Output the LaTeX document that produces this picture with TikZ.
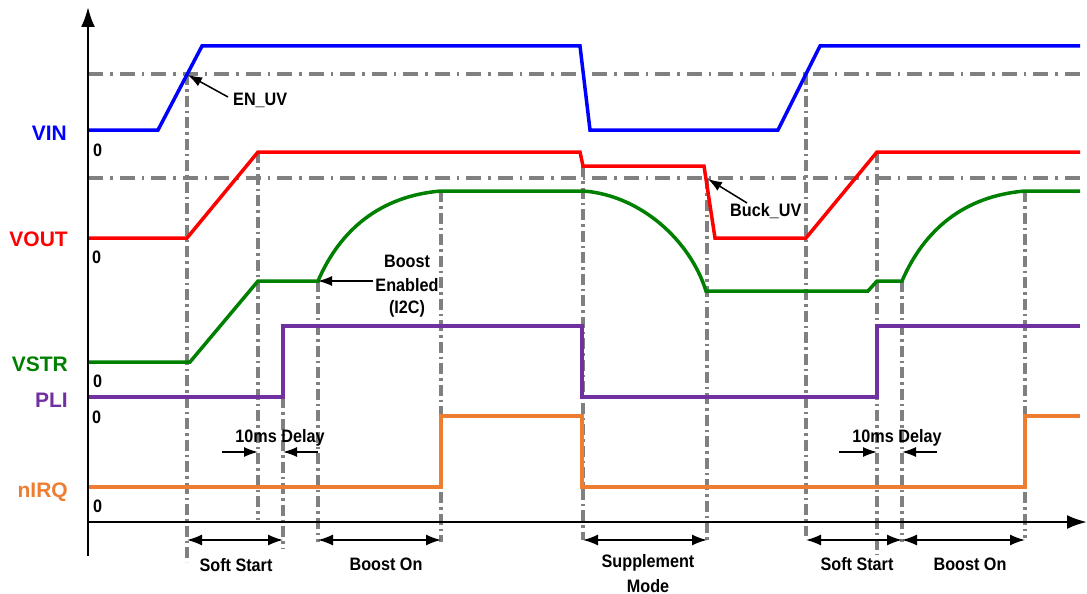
\documentclass[tikz,border=0pt]{standalone}
\usepackage{fontspec}
\setmainfont{Liberation Sans}
\newfontfamily\annfont{Liberation Sans}[FakeStretch=0.9]
\usetikzlibrary{arrows.meta}
\definecolor{cvin}{RGB}{0,0,255}
\definecolor{cvout}{RGB}{255,0,0}
\definecolor{cvstr}{RGB}{0,128,0}
\definecolor{cpli}{RGB}{112,48,160}
\definecolor{cirq}{RGB}{237,125,49}
\definecolor{cgrid}{RGB}{128,128,128}
\begin{document}
\begin{tikzpicture}[x=1pt,y=-1pt,
  sig/.style={line width=3.5pt},
  hgrid/.style={draw=cgrid,line width=3.5pt,dash pattern=on 15pt off 7pt on 2.5pt off 7pt},
  vgrid/.style={draw=cgrid,line width=3.5pt,dash pattern=on 11pt off 4pt on 2.5pt off 4pt},
  ann/.style={font=\annfont\bfseries\fontsize{18}{20}\selectfont,inner sep=0pt},
  lbl/.style={font=\bfseries\fontsize{21}{24}\selectfont,inner sep=0pt,anchor=base east},
  zero/.style={ann,anchor=base west},
  ptr/.style={line width=1.5pt,-{Latex[length=14pt,width=10pt]}},
  dimarrow/.style={line width=1.5pt,{Latex[length=15pt,width=11pt]}-{Latex[length=15pt,width=11pt]}},
  axis/.style={line width=2.5pt,-{Latex[length=20pt,width=14pt]}}
]
\useasboundingbox (0,0) rectangle (1087,594);

% horizontal threshold lines
\draw[hgrid] (88,74) -- (1080,74);
\draw[hgrid] (88,178) -- (1080,178);

% vertical event lines
\draw[vgrid] (187,74) -- (187,562);
\draw[vgrid] (258,152) -- (258,520);
\draw[vgrid] (283,397) -- (283,548);
\draw[vgrid] (318,281) -- (318,542);
\draw[vgrid] (441,191) -- (441,542);
\draw[vgrid] (583,166) -- (583,540);
\draw[vgrid] (707,178) -- (707,540);
\draw[vgrid] (806,74) -- (806,536);
\draw[vgrid] (877,152) -- (877,555);
\draw[vgrid] (902,281) -- (902,542);
\draw[vgrid] (1025,191) -- (1025,538);

% signals
\draw[sig,cvin] (88,130) -- (158,130) -- (202,46) -- (580,46) -- (590,130) -- (778,130) -- (820,46) -- (1080,46);
\draw[sig,cvout] (88,238) -- (187,238) -- (258,152) -- (580,152) -- (583,166) -- (704,166) -- (715,238) -- (806,238) -- (877,152) -- (1080,152);
\draw[sig,cvstr] (88,362) -- (190,362) -- (258,281) -- (318,281) .. controls (340,230) and (380,196) .. (441,191) -- (583,191) .. controls (640,195) and (690,240) .. (706,291) -- (868,291) -- (877,281) -- (902,281) .. controls (924,230) and (964,196) .. (1025,191) -- (1080,191);
\draw[sig,cpli] (88,397) -- (283,397) -- (283,326) -- (582,326) -- (582,397) -- (877,397) -- (877,326) -- (1080,326);
\draw[sig,cirq] (88,487) -- (441,487) -- (441,416) -- (582,416) -- (582,487) -- (1025,487) -- (1025,416) -- (1080,416);

% axes
\coordinate (ybot) at (88,556);
\coordinate (ytop) at (88,7);
\coordinate (xl) at (88,522);
\coordinate (xr) at (1087,522);
\draw[axis] (ybot) -- (ytop);
\draw[axis] (xl) -- (xr);

% signal labels
\node[lbl,text=cvin] (lvin) at (67,140) {VIN};
\node[lbl,text=cvout] (lvout) at (68,246) {VOUT};
\node[lbl,text=cvstr] (lvstr) at (68,371) {VSTR};
\node[lbl,text=cpli] (lpli) at (68,407) {PLI};
\node[lbl,text=cirq] (lirq) at (68,497) {nIRQ};
\node[zero] (z1) at (93,156) {0};
\node[zero] (z2) at (92,263) {0};
\node[zero] (z3) at (93,387) {0};
\node[zero] (z4) at (92,423) {0};
\node[zero] (z5) at (93,512) {0};

% EN_UV
\node[ann,anchor=base west] (enuv) at (233,106) {EN\_UV};
\coordinate (enuvtail) at (228,97);
\coordinate (enuvtip) at (188,75);
\draw[ptr] (enuvtail) -- (enuvtip);

% Buck_UV
\node[ann,anchor=base west] (buckuv) at (730,216) {Buck\_UV};
\coordinate (bucktail) at (747,203);
\coordinate (bucktip) at (708,179);
\draw[ptr] (bucktail) -- (bucktip);

% Boost Enabled
\node[ann,anchor=base] (be1) at (407,267) {Boost};
\node[ann,anchor=base] (be2) at (407,291) {Enabled};
\node[ann,anchor=base] (be3) at (407,313) {(I2C)};
\coordinate (betail) at (373,281);
\coordinate (betip) at (318,281);
\draw[ptr] (betail) -- (betip);

% 10ms delay
\node[ann,anchor=base] (d1) at (280,442) {10ms Delay};
\coordinate (d1a) at (222,452); \coordinate (d1b) at (258,452);
\coordinate (d1c) at (318,452); \coordinate (d1d) at (283,452);
\draw[ptr] (d1a) -- (d1b);
\draw[ptr] (d1c) -- (d1d);
\node[ann,anchor=base] (d2) at (897,442) {10ms Delay};
\coordinate (d2a) at (839,452); \coordinate (d2b) at (877,452);
\coordinate (d2c) at (937,452); \coordinate (d2d) at (902,452);
\draw[ptr] (d2a) -- (d2b);
\draw[ptr] (d2c) -- (d2d);

% phase dimension arrows
\coordinate (p1) at (187,540); \coordinate (p2) at (283,540);
\coordinate (p3) at (318,540); \coordinate (p4) at (441,540);
\coordinate (p5) at (583,540); \coordinate (p6) at (707,540);
\coordinate (p7) at (806,540); \coordinate (p8) at (902,540);
\coordinate (p9) at (1025,540);
\draw[dimarrow] (p1) -- (p2);
\draw[dimarrow] (p3) -- (p4);
\draw[dimarrow] (p5) -- (p6);
\draw[dimarrow] (p7) -- (p8);
\draw[dimarrow] (p8) -- (p9);
\node[ann,anchor=base] (ss1) at (236,571) {Soft Start};
\node[ann,anchor=base] (bo1) at (386,570) {Boost On};
\node[ann,anchor=base] (sm1) at (648,567) {Supplement};
\node[ann,anchor=base] (sm2) at (648,592) {Mode};
\node[ann,anchor=base] (ss2) at (857,570) {Soft Start};
\node[ann,anchor=base] (bo2) at (970,570) {Boost On};
\end{tikzpicture}
\end{document}
